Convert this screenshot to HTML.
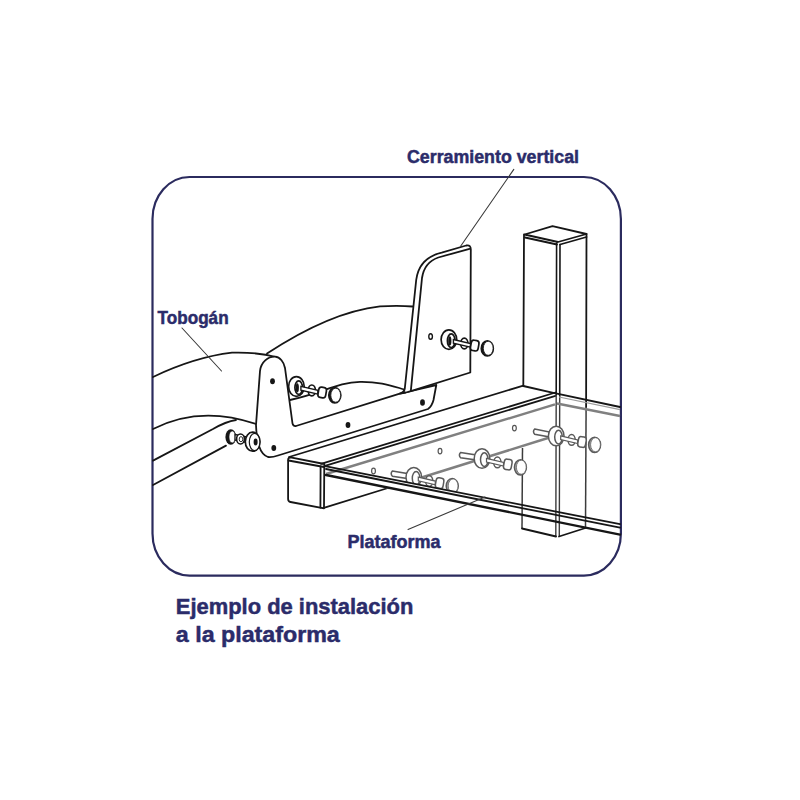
<!DOCTYPE html>
<html><head><meta charset="utf-8">
<style>
html,body{margin:0;padding:0;background:#fff;width:800px;height:800px;overflow:hidden}
svg{position:absolute;left:0;top:0}
.t{font-family:"Liberation Sans",sans-serif;font-weight:bold;fill:#2b2c6a;stroke:#2b2c6a;stroke-width:0.5}
.k{fill:none;stroke:#161616;stroke-width:1.8;stroke-linecap:round;stroke-linejoin:round}
.kw{fill:#fff;stroke:#161616;stroke-width:1.8;stroke-linejoin:round}
.g{fill:none;stroke:#808080;stroke-width:2.4;stroke-linecap:butt}
.ld{fill:none;stroke:#3a3a3a;stroke-width:1.1;stroke-linecap:round}
.dot{fill:#161616}
</style></head>
<body>
<svg width="800" height="800" viewBox="0 0 800 800">
<rect x="152.5" y="177" width="468.4" height="398.6" rx="37" ry="42" fill="none" stroke="#2b2b5e" stroke-width="2.2"/>
<path class="k" d="M153,377 Q195,357 232,352.7 Q258,352 276,357"/>
<path class="k" d="M267,353.5 Q330,312 380,306.3 Q400,305.5 412.5,306.5"/>
<path class="k" d="M153,429 Q200,405 256,424"/>
<path class="k" d="M153,460.6 L213,429 Q226,421.5 236,420"/>
<path class="k" d="M153,485 L226,445.6"/>

<path class="kw" d="M260,371 C261,362 268,356.5 275,356.7 C280,357 284,362 285,368 L292.5,423.5 Q293.5,426.5 296,426 L399.8,393.7 L436.3,385 L433.5,400 Q432,406 428,409 L278,455.5 Q272,457.5 268,457 Q262,455 259,446 Q256.5,438 256,425 Z"/>
<ellipse class="dot" cx="272.5" cy="381.2" rx="2.4" ry="3"/>
<ellipse class="dot" cx="273.8" cy="448.1" rx="2.4" ry="3"/>
<ellipse class="dot" cx="348" cy="425" rx="2.4" ry="3"/>
<ellipse class="dot" cx="422.5" cy="402.5" rx="2.4" ry="3.2"/>
<path class="k" d="M290,400 C322,393 338,382.5 360,381.8 C380,381.5 392,386 404.5,389.5"/>
<path class="kw" d="M399.8,393.7 Q404.2,392.6 404.8,388.5 L416.2,280 C418,266 425,256.5 441.7,252.7 L466.2,245.5 Q471,244.5 470.8,250 L470.3,372.5 L410.8,391.2 L406,392.5 Z"/>
<path class="k" d="M410.8,391.2 L422,278 C423.5,268 429.5,260.5 438.3,257.5 L469.5,248.8"/>
<ellipse cx="430.6" cy="336.5" rx="1.8" ry="2.8" fill="none" stroke="#161616" stroke-width="1.4"/>
<ellipse cx="448.9" cy="339.6" rx="7.8" ry="9.8" fill="#fff" stroke="#161616" stroke-width="1.7"/>
<ellipse cx="451.2" cy="340.7" rx="3.8" ry="6.8" fill="#fff" stroke="#161616" stroke-width="1.7"/>
<ellipse cx="449.8" cy="340.9" rx="1.6" ry="4.6" fill="#161616"/>
<ellipse cx="464.3" cy="343.5" rx="3.6" ry="5.4" fill="#fff" stroke="#161616" stroke-width="1.7"/>
<path d="M453.4,339.5 L470.4,343.5 L470.4,347.2 L453.4,343.2 Z" fill="#fff" stroke="#161616" stroke-width="1.36"/>
<rect x="470.8" y="340.4" width="7.8" height="10.4" rx="2.6" ry="3" transform="rotate(10 474.7 345.6)" fill="#fff" stroke="#161616" stroke-width="1.7"/>
<ellipse cx="487.3" cy="348.4" rx="6" ry="7.6" fill="#161616" stroke="#161616" stroke-width="1.7"/>
<ellipse cx="488.2" cy="348.3" rx="4.9" ry="7" fill="#fff" stroke="#161616" stroke-width="0.85"/>
<ellipse cx="296.4" cy="386.5" rx="7.8" ry="9.8" fill="#fff" stroke="#161616" stroke-width="1.7"/>
<ellipse cx="298.7" cy="387.6" rx="3.8" ry="6.8" fill="#fff" stroke="#161616" stroke-width="1.7"/>
<ellipse cx="297.3" cy="387.8" rx="1.6" ry="4.6" fill="#161616"/>
<ellipse cx="311.8" cy="390.4" rx="3.6" ry="5.4" fill="#fff" stroke="#161616" stroke-width="1.7"/>
<path d="M300.9,386.4 L317.9,390.4 L317.9,394.1 L300.9,390.1 Z" fill="#fff" stroke="#161616" stroke-width="1.36"/>
<rect x="318.3" y="387.3" width="7.8" height="10.4" rx="2.6" ry="3" transform="rotate(10 322.2 392.5)" fill="#fff" stroke="#161616" stroke-width="1.7"/>
<ellipse cx="334.8" cy="395.3" rx="6" ry="7.6" fill="#161616" stroke="#161616" stroke-width="1.7"/>
<ellipse cx="335.7" cy="395.2" rx="4.9" ry="7" fill="#fff" stroke="#161616" stroke-width="0.85"/>
<ellipse cx="230.8" cy="437" rx="5.4" ry="7.8" fill="#161616"/>
<ellipse cx="232.2" cy="436.9" rx="3.2" ry="6" fill="#fff" stroke="#161616" stroke-width="0.6"/>
<path class="kw" d="M235,434.5 L249,437.5 L249,443 L235,440 Z" style="stroke-width:1.3"/>
<ellipse class="kw" cx="240.5" cy="439" rx="3.9" ry="5" style="stroke-width:1.6"/>
<ellipse cx="241" cy="439.2" rx="1.8" ry="2.6" fill="none" stroke="#161616" stroke-width="0.9"/>
<ellipse class="kw" cx="252.6" cy="441.7" rx="7.3" ry="9.5" style="stroke-width:1.7"/>
<ellipse cx="254.6" cy="442" rx="5.3" ry="8.6" fill="#fff" stroke="#161616" stroke-width="1.2"/>
<ellipse class="dot" cx="255.6" cy="442" rx="2" ry="3.4"/>
<path class="kw" d="M288.1,460 Q288.1,457.5 290.5,457.3 L324.3,464 L324,508.3 L290.5,502 Q288.1,501.5 288.1,499 Z"/>
<path class="k" d="M288.5,460.5 L324,467"/>
<path class="k" d="M320.6,466.5 L320.4,507.5"/>
<path class="k" d="M289,457 L523.3,385.6"/>
<path class="k" d="M321,463.8 L555.5,392.5"/>
<path class="k" d="M325,465.8 L555.5,395.8"/>
<path class="g" d="M326,474 L555,404.4"/>
<path class="k" d="M323,508.2 L388,488"/>
<path class="g" d="M388,488 L548,438"/>
<path class="k" d="M524.5,234.5 L552.5,226.2 L586.5,234 L558,242 Z"/>
<path class="k" d="M525,237.5 L557,244.5 M560,244.5 L586.5,237"/>
<path class="k" d="M524,234.5 L523.3,386"/>
<path d="M522.5,448 L522,528.5" fill="none" stroke="#3c3c3c" stroke-width="1.5"/>
<path class="k" d="M556.6,243 L556.2,395 M560,244.5 L559.7,396" style="stroke-width:1.6"/>
<path d="M556.2,395 L555.8,537 M559.7,396 L559.3,536.5" fill="none" stroke="#3c3c3c" stroke-width="1.4"/>
<path class="k" d="M586.5,234 L586.1,407"/>
<path d="M586.1,407 L585.5,528" fill="none" stroke="#3c3c3c" stroke-width="1.5"/>
<path class="k" d="M522,528.5 L556,536.5 M559,536.5 L585.5,528"/>
<path class="k" d="M523.3,386 L555.5,393.3"/>
<path class="k" d="M557,393.6 L620,407"/>
<path d="M559,397 L620,409.6" stroke="#9a9a9a" stroke-width="1.2" fill="none"/>
<path class="g" d="M557,403.5 L620,416"/>
<ellipse cx="373.5" cy="471" rx="1.9" ry="2.8" fill="none" stroke="#555" stroke-width="1.2"/>
<ellipse cx="440" cy="451.1" rx="1.9" ry="2.8" fill="none" stroke="#555" stroke-width="1.2"/>
<ellipse cx="514.4" cy="428.1" rx="1.9" ry="2.8" fill="none" stroke="#555" stroke-width="1.2"/>
<path d="M460.6,452.6 L484.0,456.2 L484.0,461.1 L460.6,457.8 Q458.2,455.2 460.6,452.6 Z" fill="#fff" stroke="#5a5a5a" stroke-width="1.5"/>
<ellipse cx="482.0" cy="458.5" rx="7.8" ry="9.8" fill="#fff" stroke="#5a5a5a" stroke-width="1.5"/>
<ellipse cx="484.3" cy="459.6" rx="3.8" ry="6.8" fill="#fff" stroke="#5a5a5a" stroke-width="1.5"/>
<ellipse cx="497.4" cy="462.4" rx="3.6" ry="5.4" fill="#fff" stroke="#5a5a5a" stroke-width="1.5"/>
<path d="M486.5,458.4 L503.5,462.4 L503.5,466.1 L486.5,462.1 Z" fill="#fff" stroke="#5a5a5a" stroke-width="1.20"/>
<rect x="503.9" y="459.3" width="7.8" height="10.4" rx="2.6" ry="3" transform="rotate(10 507.8 464.5)" fill="#fff" stroke="#5a5a5a" stroke-width="1.5"/>
<ellipse cx="520.4" cy="467.3" rx="6" ry="7.6" fill="#a8a8a8" stroke="#5a5a5a" stroke-width="1.5"/>
<ellipse cx="521.3" cy="467.2" rx="4.9" ry="7" fill="#fff" stroke="#5a5a5a" stroke-width="0.75"/>
<path d="M534.7,429.0 L558.2,433.8 L558.2,438.6 L534.7,434.2 Q532.3,431.6 534.7,429.0 Z" fill="#fff" stroke="#5a5a5a" stroke-width="1.5"/>
<ellipse cx="556.2" cy="436.0" rx="7.8" ry="9.8" fill="#fff" stroke="#5a5a5a" stroke-width="1.5"/>
<ellipse cx="558.5" cy="437.1" rx="3.8" ry="6.8" fill="#fff" stroke="#5a5a5a" stroke-width="1.5"/>
<ellipse cx="571.6" cy="439.9" rx="3.6" ry="5.4" fill="#fff" stroke="#5a5a5a" stroke-width="1.5"/>
<path d="M560.7,435.9 L577.7,439.9 L577.7,443.6 L560.7,439.6 Z" fill="#fff" stroke="#5a5a5a" stroke-width="1.20"/>
<rect x="578.1" y="436.8" width="7.8" height="10.4" rx="2.6" ry="3" transform="rotate(10 582.0 442.0)" fill="#fff" stroke="#5a5a5a" stroke-width="1.5"/>
<ellipse cx="594.6" cy="444.8" rx="6" ry="7.6" fill="#a8a8a8" stroke="#5a5a5a" stroke-width="1.5"/>
<ellipse cx="595.5" cy="444.7" rx="4.9" ry="7" fill="#fff" stroke="#5a5a5a" stroke-width="0.75"/>
<path d="M392.4,471.1 L415.8,474.9 L415.8,479.8 L392.4,476.3 Q390.0,473.7 392.4,471.1 Z" fill="#fff" stroke="#5a5a5a" stroke-width="1.5"/>
<ellipse cx="413.8" cy="477.2" rx="7.8" ry="9.8" fill="#fff" stroke="#5a5a5a" stroke-width="1.5"/>
<ellipse cx="416.1" cy="478.3" rx="3.8" ry="6.8" fill="#fff" stroke="#5a5a5a" stroke-width="1.5"/>
<ellipse cx="429.2" cy="481.1" rx="3.6" ry="5.4" fill="#fff" stroke="#5a5a5a" stroke-width="1.5"/>
<path d="M418.3,477.1 L435.3,481.1 L435.3,484.8 L418.3,480.8 Z" fill="#fff" stroke="#5a5a5a" stroke-width="1.20"/>
<rect x="435.7" y="478.0" width="7.8" height="10.4" rx="2.6" ry="3" transform="rotate(10 439.6 483.2)" fill="#fff" stroke="#5a5a5a" stroke-width="1.5"/>
<ellipse cx="452.2" cy="486.0" rx="6" ry="7.6" fill="#a8a8a8" stroke="#5a5a5a" stroke-width="1.5"/>
<ellipse cx="453.1" cy="485.9" rx="4.9" ry="7" fill="#fff" stroke="#5a5a5a" stroke-width="0.75"/>
<path d="M385,477.8 L470,494.3 L470,504.6 L385,487.9 Z" fill="#fff"/>
<path class="k" d="M325,466.2 L620,524.2"/>
<path class="k" d="M326,469 L620,527.7"/>
<path class="k" d="M326,475 L620,534.6" style="stroke-width:2.4"/>
<path class="ld" d="M513.8,169.4 L460.6,246.3"/>
<path class="ld" d="M182,328 L221.5,371"/>
<path class="ld" d="M408,529.4 L485,497"/>
<text class="t" x="407" y="162.6" font-size="18.7" textLength="172" lengthAdjust="spacingAndGlyphs">Cerramiento vertical</text>
<text class="t" x="157.6" y="323.75" font-size="17.8" textLength="71" lengthAdjust="spacingAndGlyphs">Tobogán</text>
<text class="t" x="347.6" y="547.75" font-size="17.8" textLength="93" lengthAdjust="spacingAndGlyphs">Plataforma</text>
<text class="t" x="175.8" y="614" font-size="22.8" textLength="237.5" lengthAdjust="spacingAndGlyphs">Ejemplo de instalación</text>
<text class="t" x="175.8" y="641.7" font-size="22.8" textLength="164" lengthAdjust="spacingAndGlyphs">a la plataforma</text>
</svg>
</body></html>
